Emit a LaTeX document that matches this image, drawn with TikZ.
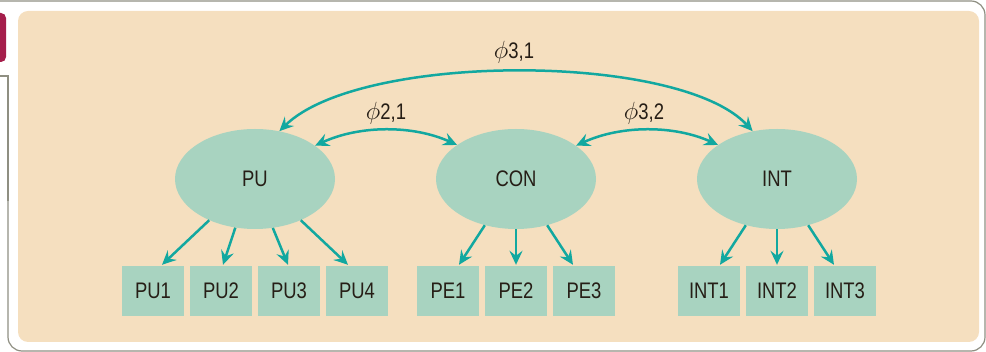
\documentclass[tikz,border=0pt]{standalone}
\usepackage{fontspec}
\setmainfont[FakeStretch=0.82]{Liberation Sans}
\usetikzlibrary{shapes.geometric,arrows.meta,calc}
\definecolor{beige}{HTML}{F5DFBF}
\definecolor{nodefill}{HTML}{A8D3C0}
\definecolor{arrowcol}{HTML}{12A8A0}
\definecolor{txtcol}{HTML}{261E16}
\definecolor{tabcol}{HTML}{A51E4B}
\definecolor{framecol}{HTML}{8F8F82}
\begin{document}
\begin{tikzpicture}[x=1pt,y=-1pt,
  every node/.style={font=\fontsize{22.5}{26}\selectfont, text=txtcol},
  latent/.style={ellipse, fill=nodefill, minimum width=160pt, minimum height=100pt, inner sep=0pt},
  indic/.style={rectangle, fill=nodefill, minimum width=62pt, minimum height=50pt, inner sep=0pt},
  tip/.style={Stealth[length=14pt,width=13pt,inset=5pt]},
  conn/.style={draw=arrowcol, line width=2.5pt, -{Stealth[length=14pt,width=13pt,inset=5pt]}},
  cov/.style={draw=arrowcol, line width=2.5pt, {Stealth[length=14pt,width=13pt,inset=5pt]}-{Stealth[length=14pt,width=13pt,inset=5pt]}},
  lbl/.style={inner sep=0pt}]
\useasboundingbox (0,0) rectangle (986,352);
% frame
\draw[framecol, line width=1.2pt, rounded corners=14pt] (0,1) -- (985,1) -- (985,351) -- (8,351) -- (8,200);
\draw[framecol, line width=1.2pt] (8,201) -- (8,76) -- (0,76);
\fill[tabcol, rounded corners=5pt] (-12,13) rectangle (6,62);
% panel
\fill[beige, rounded corners=10pt] (18,11) rectangle (979,342);
% latent nodes
\node[latent] (PU) at (255,179) {PU};
\node[latent] (CON) at (516,179) {CON};
\node[latent] (INT) at (777,179) {INT};
% indicators
\node[indic] (PU1) at (153,291) {PU1};
\node[indic] (PU2) at (221,291) {PU2};
\node[indic] (PU3) at (289,291) {PU3};
\node[indic] (PU4) at (357,291) {PU4};
\node[indic] (PE1) at (448,291) {PE1};
\node[indic] (PE2) at (516,291) {PE2};
\node[indic] (PE3) at (584,291) {PE3};
\node[indic] (INT1) at (709,291) {INT1};
\node[indic] (INT2) at (777,291) {INT2};
\node[indic] (INT3) at (845,291) {INT3};
% loadings
\draw[conn] (PU.222) -- ($(PU1.north)+(9,-1)$);
\draw[conn] (PU.248) -- ($(PU2.north)+(2,-1)$);
\draw[conn] (PU.290) -- ($(PU3.north)+(-1,-1)$);
\draw[conn] (PU.318) -- ($(PU4.north)+(-9,-1)$);
\draw[conn] (CON.236) -- ($(PE1.north)+(11,-1)$);
\draw[conn] (CON.270) -- ($(PE2.north)+(0,-1)$);
\draw[conn] (CON.304) -- ($(PE3.north)+(-11,-1)$);
\draw[conn] (INT.236) -- ($(INT1.north)+(11,-1)$);
\draw[conn] (INT.270) -- ($(INT2.north)+(0,-1)$);
\draw[conn] (INT.304) -- ($(INT3.north)+(-11,-1)$);
% covariances
\draw[cov] (PU.29) .. controls (360,125) and (413,125) .. (CON.150);
\draw[cov] (CON.29) .. controls (621,125) and (674,125) .. (INT.150);
\draw[cov] (PU.63) .. controls (360,52) and (680,52) .. (INT.117);
% labels
\node[lbl] (L21) at (386,113) {\scalebox{1.2}{$\phi$}2,1};
\node[lbl] (L32) at (644,113) {\scalebox{1.2}{$\phi$}3,2};
\node[lbl] (L31) at (514,52) {\scalebox{1.2}{$\phi$}3,1};
\end{tikzpicture}
\end{document}
